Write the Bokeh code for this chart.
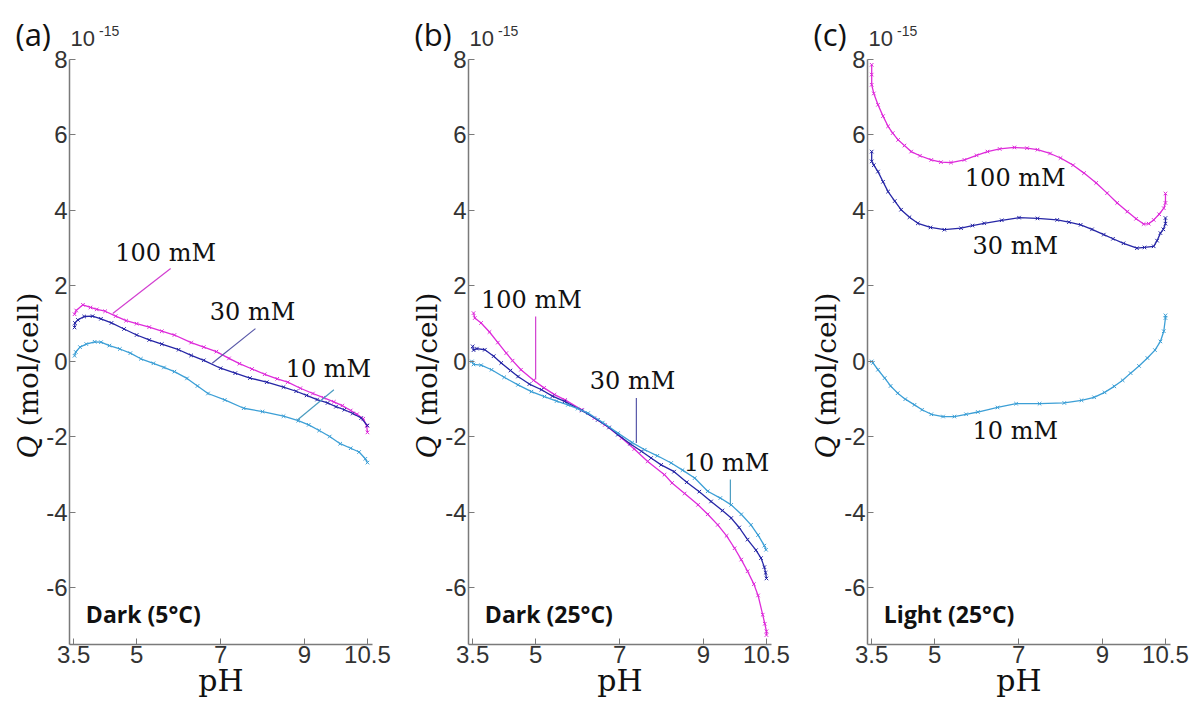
import math
from bokeh.plotting import figure
from bokeh.models import Label, FixedTicker, Range1d
from bokeh.layouts import row
from bokeh.embed import file_html
from bokeh.resources import INLINE

# ---------------- data ----------------
x_ticks = [3.5, 5, 7, 9, 10.5]
x_tick_labels = ["3.5", "5", "7", "9", "10.5"]
y_ticks = [-6, -4, -2, 0, 2, 4, 6, 8]
y_tick_labels = ["-6", "-4", "-2", "0", "2", "4", "6", "8"]
series_names = ["100 mM", "30 mM", "10 mM"]
panel_tags = ["(a)", "(b)", "(c)"]
panel_conditions = ["Dark (5°C)", "Dark (25°C)", "Light (25°C)"]
x_title = "pH"
y_title_symbol = "Q"
y_title_unit = "(mol/cell)"
scale_base = "10"
scale_exp = "-15"

# panel (a) Dark 5 °C
a100_ph = [3.52, 3.56, 3.72, 3.9, 4.05, 4.25, 4.5, 4.75, 5.0, 5.3, 5.6, 5.9, 6.3, 6.6, 6.9, 7.2, 7.45,
           7.75, 8.05, 8.35, 8.6, 8.9, 9.2, 9.45, 9.7, 9.9, 10.1, 10.25, 10.4, 10.48, 10.5]
a100_q = [1.25, 1.35, 1.50, 1.43, 1.38, 1.33, 1.20, 1.08, 1.00, 0.91, 0.80, 0.70, 0.50, 0.38, 0.26, 0.08, -0.06,
          -0.20, -0.34, -0.46, -0.55, -0.71, -0.85, -0.96, -1.07, -1.17, -1.30, -1.40, -1.52, -1.70, -1.88]
a30_ph = [3.52, 3.53, 3.6, 3.75, 3.95, 4.15, 4.4, 4.7, 5.0, 5.3, 5.6, 6.0, 6.3, 6.6, 7.0, 7.35, 7.7, 8.1,
          8.5, 8.8, 9.05, 9.3, 9.55, 9.75, 9.95, 10.15, 10.35, 10.5]
a30_q = [0.90, 1.02, 1.10, 1.19, 1.20, 1.13, 1.02, 0.86, 0.70, 0.57, 0.46, 0.31, 0.16, 0.03, -0.18, -0.31, -0.44, -0.55,
         -0.68, -0.79, -0.90, -1.01, -1.10, -1.20, -1.28, -1.38, -1.50, -1.70]
a10_ph = [3.52, 3.55, 3.65, 3.8, 4.0, 4.15, 4.35, 4.6, 4.85, 5.1, 5.4, 5.65, 5.9, 6.2, 6.45, 6.7, 7.1, 7.55,
          8.0, 8.5, 8.85, 9.1, 9.35, 9.6, 9.85, 10.1, 10.3, 10.45, 10.5]
a10_q = [0.15, 0.25, 0.38, 0.46, 0.52, 0.51, 0.42, 0.33, 0.22, 0.07, -0.05, -0.16, -0.27, -0.45, -0.65, -0.85, -1.02, -1.24,
         -1.33, -1.45, -1.57, -1.68, -1.83, -1.99, -2.18, -2.30, -2.40, -2.58, -2.68]

# panel (b) Dark 25 °C
b100_ph = [3.52, 3.55, 3.7, 3.9, 4.1, 4.3, 4.45, 4.65, 4.95, 5.2, 5.45, 5.7, 6.1, 6.4, 6.65, 7.05, 7.35, 7.67,
           8.07, 8.25, 8.55, 8.87, 9.1, 9.34, 9.55, 9.74, 9.9, 10.05, 10.2, 10.3, 10.41, 10.46, 10.5, 10.5]
b100_q = [1.28, 1.15, 1.02, 0.78, 0.50, 0.22, 0.02, -0.22, -0.50, -0.70, -0.88, -1.02, -1.28, -1.50, -1.68, -2.03, -2.32, -2.65,
          -3.00, -3.22, -3.50, -3.80, -4.05, -4.33, -4.62, -4.95, -5.25, -5.56, -5.90, -6.20, -6.71, -6.95, -7.15, -7.25]
b30_ph = [3.5, 3.52, 3.6, 3.79, 4.0, 4.18, 4.4, 4.58, 4.85, 5.14, 5.4, 5.69, 6.1, 6.48, 6.75, 6.96, 7.25, 7.52,
          7.75, 7.99, 8.3, 8.6, 8.9, 9.18, 9.45, 9.66, 9.85, 10.05, 10.25, 10.37, 10.45, 10.48, 10.5]
b30_q = [0.40, 0.30, 0.34, 0.31, 0.14, -0.04, -0.24, -0.40, -0.60, -0.75, -0.92, -1.06, -1.30, -1.55, -1.75, -1.94, -2.18, -2.38,
         -2.56, -2.74, -2.92, -3.20, -3.45, -3.71, -3.95, -4.15, -4.40, -4.72, -5.00, -5.21, -5.45, -5.60, -5.75]
b10_ph = [3.48, 3.52, 3.7, 3.95, 4.25, 4.58, 4.9, 5.21, 5.5, 5.77, 6.0, 6.25, 6.6, 6.96, 7.3, 7.6, 7.9, 8.23,
          8.5, 8.79, 9.1, 9.4, 9.66, 9.9, 10.13, 10.3, 10.45, 10.49]
b10_q = [0.0, -0.08, -0.10, -0.22, -0.42, -0.62, -0.80, -0.93, -1.05, -1.15, -1.25, -1.37, -1.62, -1.90, -2.15, -2.34, -2.50, -2.69,
         -2.88, -3.09, -3.44, -3.62, -3.80, -4.05, -4.33, -4.60, -4.88, -4.99]

# panel (c) Light 25 °C
c100_ph = [3.5, 3.5, 3.5, 3.55, 3.65, 3.77, 3.89, 4.0, 4.13, 4.28, 4.44, 4.65, 4.92, 5.15, 5.39, 5.71, 6.0, 6.26,
           6.55, 6.9, 7.2, 7.45, 7.75, 8.0, 8.3, 8.56, 8.85, 9.11, 9.35, 9.59, 9.8, 9.98, 10.1, 10.22, 10.35,
           10.46, 10.5, 10.5]
c100_q = [7.86, 7.6, 7.33, 7.1, 6.80, 6.5, 6.23, 6.05, 5.87, 5.72, 5.56, 5.45, 5.34, 5.28, 5.27, 5.34, 5.46, 5.56,
          5.63, 5.67, 5.65, 5.61, 5.51, 5.39, 5.20, 4.99, 4.73, 4.46, 4.20, 3.97, 3.78, 3.64, 3.65, 3.75, 3.90,
          4.06, 4.20, 4.45]
c30_ph = [3.5, 3.5, 3.55, 3.65, 3.77, 3.89, 4.05, 4.2, 4.4, 4.6, 4.9, 5.23, 5.63, 5.9, 6.18, 6.6, 7.01, 7.45,
          7.92, 8.2, 8.48, 8.75, 9.03, 9.25, 9.5, 9.82, 10.0, 10.22, 10.3, 10.38, 10.45, 10.5, 10.5]
c30_q = [5.56, 5.30, 5.20, 5.03, 4.76, 4.50, 4.25, 4.02, 3.82, 3.66, 3.55, 3.49, 3.53, 3.60, 3.66, 3.74, 3.81, 3.79,
         3.75, 3.69, 3.62, 3.50, 3.36, 3.25, 3.13, 3.00, 3.02, 3.05, 3.20, 3.40, 3.50, 3.65, 3.80]
c10_ph = [3.5, 3.53, 3.65, 3.81, 3.95, 4.12, 4.3, 4.52, 4.7, 4.92, 5.2, 5.47, 5.75, 6.03, 6.5, 6.94, 7.5, 8.09,
          8.5, 8.8, 9.05, 9.28, 9.48, 9.67, 9.87, 10.07, 10.25, 10.38, 10.46, 10.5, 10.5]
c10_q = [0.0, -0.04, -0.22, -0.44, -0.65, -0.84, -1.00, -1.15, -1.28, -1.40, -1.46, -1.46, -1.40, -1.34, -1.22, -1.12, -1.12, -1.10,
         -1.03, -0.95, -0.82, -0.66, -0.50, -0.31, -0.12, 0.09, 0.30, 0.53, 0.80, 1.15, 1.22]

# annotation anchors (pH, Q): label centre, leader line start/end
ann_a = [((5.69, 2.86), (5.81, 2.46), (4.43, 1.27)),
         ((7.76, 1.32), (7.83, 0.87), (6.80, -0.05)),
         ((9.57, -0.19), (9.70, -0.75), (8.83, -1.55))]
ann_b = [((4.90, 1.64), (5.00, 1.19), (5.00, -0.48)),
         ((7.31, -0.53), (7.40, -0.97), (7.40, -2.16)),
         ((9.55, -2.68), (9.64, -3.13), (9.64, -3.80))]
ann_c = [((6.92, 4.87), None, None),
         ((6.92, 3.07), None, None),
         ((6.92, -1.85), None, None)]

# ---------------- styling / layout ----------------
COLORS = ["#DE2BDA", "#2626A6", "#3C9FD6"]
LEADER = ["#D23FD0", "#5858A8", "#4A9CC0"]
X0, X1 = 3.4, 10.62            # axis extent (pH)
Y0, Y1 = -7.5, 8.0             # axis extent (Q, x1e-15)
LEFT, TOP, FW, FH = 69, 59, 303, 585   # pixel box of the axes inside each panel
KX = FW / (X1 - X0)
KY = FH / (Y1 - Y0)
HEIGHT = 704
WIDTHS = [399, 399, 398]
TXT = "#111111"
XS = X0 - LEFT / KX            # data value at the panel's left edge
YT = Y1 + TOP / KY             # data value at the panel's top edge


def at(px_, py_):
    """panel pixel position -> data coordinates (the frame covers the whole panel)"""
    return XS + px_ / KX, YT - py_ / KY


def make_panel(i, series, anns, w):
    p = figure(width=w, height=HEIGHT,
               x_range=Range1d(XS, XS + w / KX), y_range=Range1d(YT - HEIGHT / KY, YT),
               output_backend="svg", toolbar_location=None,
               min_border=0, min_border_left=0, min_border_right=0,
               min_border_top=0, min_border_bottom=0)
    p.title.visible = False
    p.outline_line_color = None
    p.xgrid.visible = False
    p.ygrid.visible = False
    p.background_fill_color = "white"
    p.border_fill_color = "white"
    for ax, ticks, labels in ((p.xaxis[0], x_ticks, x_tick_labels), (p.yaxis[0], y_ticks, y_tick_labels)):
        ax.ticker = FixedTicker(ticks=ticks)
        ax.major_label_overrides = {t: l for t, l in zip(ticks, labels)}
        ax.axis_line_color = "#7a7a7a"
        ax.axis_line_width = 1.5
        ax.major_tick_line_color = "#7a7a7a"
        ax.major_tick_in = 6
        ax.major_tick_out = 0
        ax.minor_tick_line_color = None
        ax.major_label_text_font = "Liberation Sans"
        ax.major_label_text_font_size = "24px"
        ax.major_label_text_color = "#333333"
    p.xaxis.fixed_location = Y0
    p.xaxis.bounds = (X0, X1)
    p.yaxis.fixed_location = X0
    p.yaxis.bounds = (Y0, Y1)
    p.xaxis.major_label_standoff = 1
    p.yaxis.major_label_standoff = 2

    for (xs, ys), c in zip(series, COLORS):
        p.line(xs, ys, line_color=c, line_width=1.3)
        p.scatter(xs, ys, marker="x", size=5, line_color=c, line_width=1)

    for k, (center, s, e) in enumerate(anns):
        if s is not None:
            p.segment(x0=[s[0]], y0=[s[1]], x1=[e[0]], y1=[e[1]], line_color=LEADER[k], line_width=1.2)
        p.add_layout(Label(x=center[0], y=center[1], text=series_names[k], text_align="center",
                           text_baseline="middle", text_font="DejaVu Serif", text_font_size="24px",
                           text_color=TXT))
    p.add_layout(Label(x=3.79, y=-6.69, text=panel_conditions[i], text_align="left", text_baseline="middle",
                       text_font="Open Sans", text_font_style="bold", text_font_size="23px",
                       text_color=TXT))

    # panel tag and the 10^-15 factor
    tx, ty = at(15, 33)
    p.add_layout(Label(x=tx, y=ty, text=panel_tags[i], text_align="left", text_baseline="middle",
                       text_font="Open Sans", text_font_size="31px", text_color=TXT))
    bx, by = at(70, 37.5)
    p.add_layout(Label(x=bx, y=by, text=scale_base, text_align="left", text_baseline="middle",
                       text_font="Liberation Sans", text_font_size="22px", text_color="#333333"))
    ex, ey = at(98.5, 30)
    p.add_layout(Label(x=ex, y=ey, text=scale_exp, text_align="left", text_baseline="middle",
                       text_font="Liberation Sans", text_font_size="14px", text_color="#333333"))

    # y title: italic Q + unit, reading bottom to top
    qx, qy = at(28, 458)
    p.add_layout(Label(x=qx, y=qy, text=y_title_symbol, angle=math.pi / 2, text_align="left",
                       text_baseline="middle", text_font="DejaVu Serif", text_font_style="italic",
                       text_font_size="28px", text_color=TXT))
    ux, uy = at(28, 426)
    p.add_layout(Label(x=ux, y=uy, text=y_title_unit, angle=math.pi / 2, text_align="left",
                       text_baseline="middle", text_font="DejaVu Serif", text_font_size="28px",
                       text_color=TXT))

    # x title
    hx, hy = at(LEFT + FW / 2, 680)
    p.add_layout(Label(x=hx, y=hy, text=x_title, text_align="center", text_baseline="middle",
                       text_font="DejaVu Serif", text_font_size="30px", text_color=TXT))
    return p


pa = make_panel(0, [(a100_ph, a100_q), (a30_ph, a30_q), (a10_ph, a10_q)], ann_a, WIDTHS[0])
pb = make_panel(1, [(b100_ph, b100_q), (b30_ph, b30_q), (b10_ph, b10_q)], ann_b, WIDTHS[1])
pc = make_panel(2, [(c100_ph, c100_q), (c30_ph, c30_q), (c10_ph, c10_q)], ann_c, WIDTHS[2])

layout = row(pa, pb, pc, spacing=0)
open("out.html", "w").write(file_html(layout, INLINE))
